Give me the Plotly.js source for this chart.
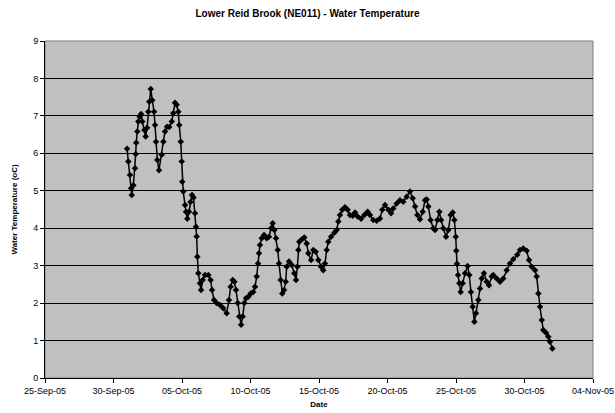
<!DOCTYPE html>
<html>
<head>
<meta charset="utf-8">
<script src="https://cdn.plot.ly/plotly-3.0.1.min.js"></script>
<style>html,body{margin:0;padding:0;background:#fff;}#chart{width:615px;height:413px;}</style>
</head>
<body>
<div id="chart"></div>
<script>
// Days elapsed since 25-Sep-05 00:00 for each reading
const startDate = '2005-09-25';
const dayOffset = [
5.99,6.08,6.20,6.28,6.33,6.45,6.57,6.62,6.66,6.74,6.81,6.91,7.01,7.10,7.25,7.35,7.45,7.54,7.61,7.72,
7.83,7.96,8.03,8.10,8.20,8.32,8.52,8.64,8.76,8.91,9.07,9.25,9.36,9.49,9.61,9.73,9.80,9.91,9.98,10.02,
10.09,10.22,10.29,10.39,10.51,10.62,10.73,10.84,10.95,11.02,11.07,11.12,11.19,11.31,11.39,11.51,11.68,11.92,12.09,12.19,
12.34,12.53,12.77,13.01,13.26,13.43,13.55,13.70,13.82,13.94,14.07,14.18,14.31,14.43,14.55,14.67,14.84,15.01,15.20,15.33,
15.45,15.55,15.62,15.69,15.82,15.99,16.18,16.35,16.50,16.62,16.74,16.86,16.99,17.08,17.20,17.32,17.45,17.57,17.64,17.81,
18.01,18.20,18.32,18.42,18.49,18.56,18.74,18.93,19.10,19.22,19.42,19.58,19.76,19.95,20.15,20.31,20.44,20.56,20.68,20.88,
21.12,21.29,21.41,21.53,21.70,21.90,22.09,22.26,22.46,22.63,22.82,23.07,23.31,23.55,23.72,23.96,24.21,24.45,24.62,24.82,
25.06,25.26,25.42,25.67,25.91,26.15,26.40,26.64,26.84,27.01,27.18,27.37,27.57,27.74,27.86,27.98,28.15,28.34,28.47,28.64,
28.78,28.91,29.07,29.27,29.44,29.61,29.76,29.88,29.98,30.02,30.07,30.15,30.24,30.34,30.49,30.66,30.85,30.97,31.09,31.22,
31.34,31.46,31.63,31.75,31.88,32.04,32.24,32.41,32.61,32.72,32.97,33.21,33.45,33.70,33.94,34.18,34.47,34.67,34.91,35.16,
35.33,35.53,35.77,35.89,36.01,36.13,36.26,36.37,36.57,36.74,36.86,37.03
];
// Water temperature (oC)
const waterTemp = [
6.12,5.78,5.42,5.07,4.89,5.15,5.60,5.98,6.28,6.58,6.85,6.98,7.05,6.85,6.62,6.45,6.68,7.11,7.38,7.72,
7.42,7.11,6.76,6.31,5.82,5.55,5.96,6.31,6.58,6.71,6.70,6.85,7.07,7.35,7.30,7.11,6.76,6.31,5.78,5.24,
4.98,4.62,4.44,4.25,4.44,4.70,4.89,4.82,4.40,4.04,3.78,3.24,2.80,2.53,2.35,2.62,2.75,2.75,2.62,2.35,
2.08,2.00,1.95,1.86,1.73,2.08,2.44,2.62,2.57,2.35,2.00,1.64,1.42,1.64,2.00,2.13,2.17,2.26,2.30,2.44,
2.71,3.06,3.33,3.55,3.73,3.82,3.73,3.77,4.00,4.13,3.95,3.73,3.42,3.06,2.62,2.26,2.35,2.57,2.97,3.11,
3.02,2.80,2.62,2.97,3.42,3.64,3.70,3.75,3.59,3.33,3.15,3.42,3.37,3.15,2.97,2.88,3.06,3.42,3.64,3.77,
3.88,3.95,4.18,4.35,4.49,4.56,4.49,4.35,4.33,4.42,4.31,4.25,4.35,4.44,4.35,4.22,4.20,4.26,4.49,4.62,
4.49,4.40,4.53,4.66,4.75,4.71,4.84,4.98,4.80,4.58,4.35,4.24,4.44,4.75,4.77,4.58,4.22,4.00,3.95,4.22,
4.44,4.22,4.00,3.77,3.95,4.35,4.42,4.22,3.77,3.40,3.05,2.75,2.53,2.30,2.53,2.80,2.99,2.75,2.30,1.90,
1.50,1.73,2.08,2.39,2.66,2.80,2.57,2.48,2.71,2.75,2.66,2.57,2.66,2.88,3.06,3.17,3.29,3.42,3.46,3.40,
3.15,2.97,2.88,2.71,2.26,1.90,1.55,1.28,1.21,1.10,0.97,0.79
];
const xRange = ['2005-09-25', '2005-11-04'];
const yTicks = [0,1,2,3,4,5,6,7,8,9];

const t0 = new Date(startDate + 'T00:00:00Z').getTime();
const xDates = dayOffset.map(d => new Date(t0 + d * 86400000).toISOString().replace('T',' ').slice(0,19));

const font = 'Liberation Sans, Arial, sans-serif';
const trace = {
  x: xDates, y: waterTemp, type: 'scatter', mode: 'lines+markers',
  line: {color: '#000000', width: 1.5},
  marker: {symbol: 'diamond', size: 5, color: '#000000'},
  hoverinfo: 'skip'
};
const layout = {
  width: 615, height: 413,
  margin: {l: 45, r: 22, t: 41, b: 35},
  paper_bgcolor: '#ffffff', plot_bgcolor: '#c0c0c0',
  showlegend: false,
  title: {text: 'Lower Reid Brook (NE011) - Water Temperature', x: 0.5, xanchor: 'center', y: 0.968, yanchor: 'middle',
    font: {family: font, size: 10, color: '#000', weight: 'bold'}},
  xaxis: {
    type: 'date', range: xRange, tick0: xRange[0], dtick: 5 * 86400000, tickformat: '%d-%b-%y',
    showgrid: false, zeroline: false, showline: true, linecolor: '#000', linewidth: 1,
    ticks: 'outside', ticklen: 4, tickcolor: '#000',
    tickfont: {family: font, size: 9, color: '#000'},
    title: {text: 'Date', font: {family: font, size: 8, color: '#000', weight: 'bold'}, standoff: 6},
    automargin: false
  },
  yaxis: {
    range: [0, 9], tickvals: yTicks, showgrid: true, gridcolor: '#000', gridwidth: 1,
    zeroline: false, showline: true, linecolor: '#000', linewidth: 1,
    ticks: 'outside', ticklen: 4, tickcolor: '#000',
    tickfont: {family: font, size: 9, color: '#000'},
    title: {text: 'Water Temperature (oC)', font: {family: font, size: 8, color: '#000', weight: 'bold'}, standoff: 14},
    automargin: false
  },
  shapes: [{type: 'rect', xref: 'paper', yref: 'paper', x0: 0, x1: 1, y0: 0, y1: 1,
    line: {color: '#808080', width: 1}, layer: 'below'}]
};
Plotly.newPlot('chart', [trace], layout, {staticPlot: true, displayModeBar: false});
</script>
</body>
</html>
